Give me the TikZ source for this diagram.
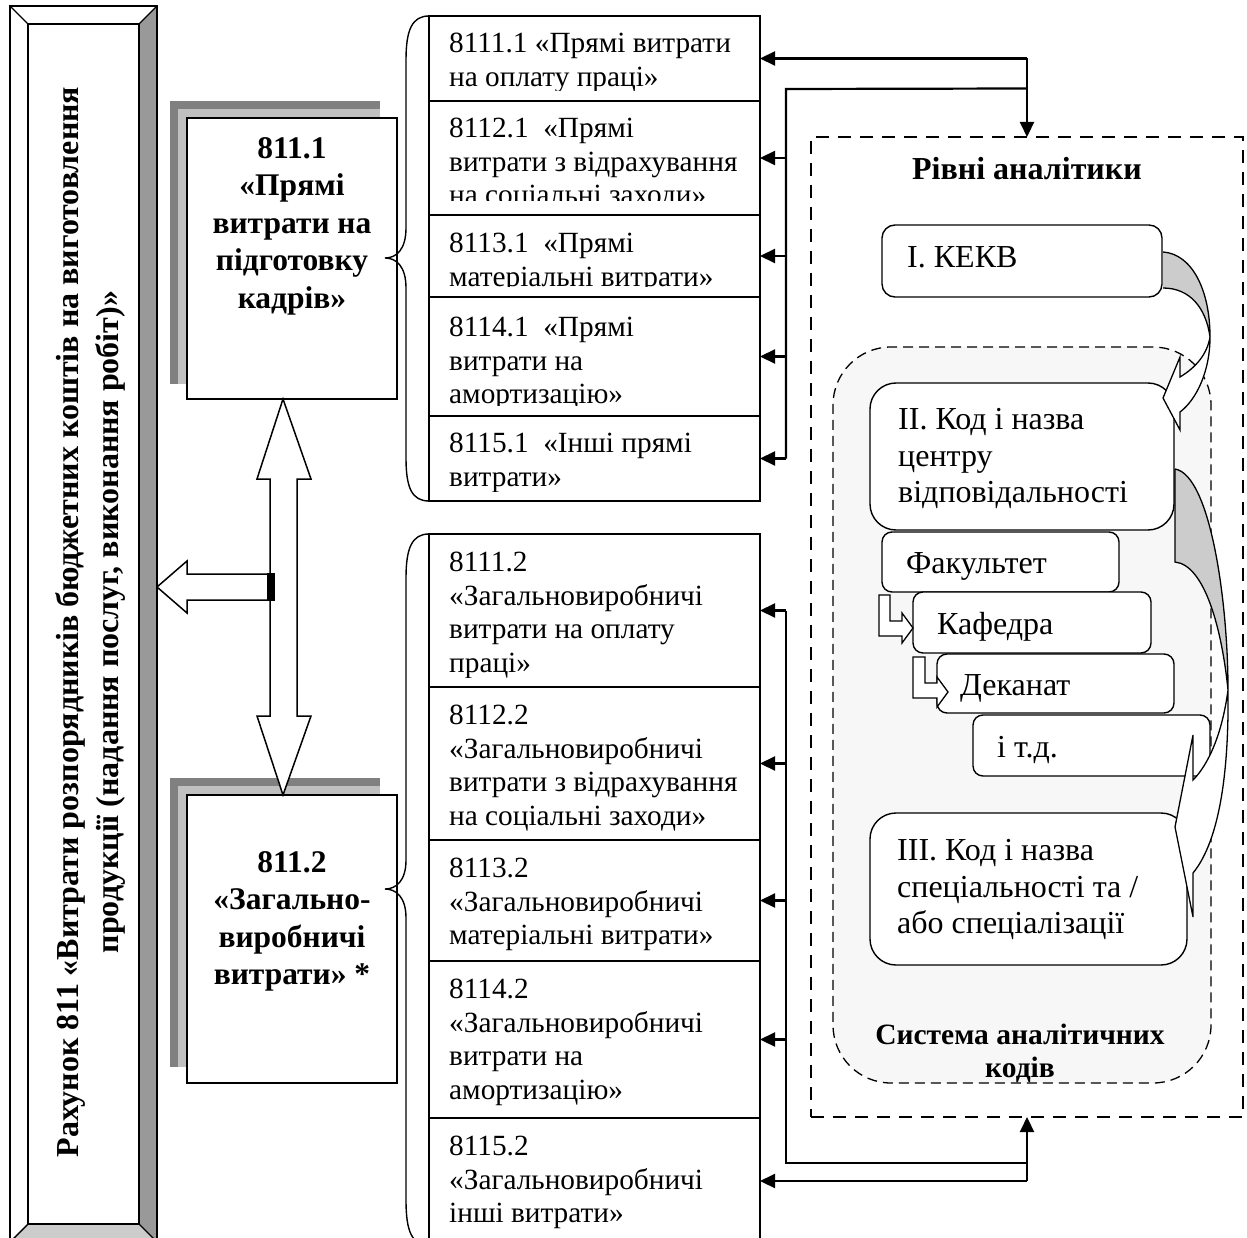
\documentclass[tikz,border=0pt]{standalone}
\usepackage{fontspec}
\setmainfont{Liberation Serif}
\usetikzlibrary{arrows.meta,calc}
\definecolor{dkgray}{HTML}{808080}
\definecolor{ltgray}{HTML}{C0C0C0}
\definecolor{barright}{HTML}{999999}
\definecolor{barbottom}{HTML}{CCCCCC}
\definecolor{agray}{HTML}{CCCCCC}
\definecolor{regfill}{HTML}{F7F7F7}
\begin{document}
\begin{tikzpicture}[x=1pt,y=-1pt,
  rowbox/.style={draw, line width=1.4pt, anchor=north west, minimum width=331pt, inner sep=0pt, outer sep=0pt},
  rowtxt/.style={anchor=north west, inner sep=0pt, align=left, font=\fontsize{29.3}{33.5}\selectfont},
  bigbox/.style={draw, fill=white, line width=1.8pt, anchor=north west, minimum width=210pt, inner sep=0pt, outer sep=0pt},
  bigtxt/.style={anchor=north, inner sep=0pt, align=center, font=\fontsize{31.5}{37.5}\selectfont\bfseries},
  rbox/.style={draw, fill=white, line width=1.4pt, anchor=north west, inner sep=0pt, outer sep=0pt},
  rtxt/.style={anchor=north west, inner sep=0pt, align=left, font=\fontsize{32}{36.5}\selectfont},
  rtxtb/.style={anchor=base west, inner sep=0pt, font=\fontsize{32}{36.5}\selectfont},
  conn/.style={line width=2.2pt},
  arr/.style={line width=2.2pt, -{Triangle[length=15pt,width=14pt]}},
  shp/.style={draw, fill=white, line width=1.5pt, line join=miter}
]
\useasboundingbox (0,0) rectangle (1247,1238);
\clip (0,0) rectangle (1247,1238);
\fill[white] (0,0) rectangle (1247,1238);

% ---------- left bevelled bar ----------
\fill[white] (10,6) rectangle (157,1242);
\fill[barright] (157,6) -- (157,1242) -- (139,1224) -- (139,24) -- cycle;
\fill[barbottom] (10,1242) -- (28,1224) -- (139,1224) -- (157,1242) -- cycle;
\draw[line width=1.4pt] (10,6) rectangle (157,1242);
\draw[line width=1.4pt] (28,24) rectangle (139,1224);
\draw[line width=1.4pt] (10,6) -- (28,24) (157,6) -- (139,24) (10,1242) -- (28,1224) (157,1242) -- (139,1224);
\node[rotate=90, inner sep=0pt, align=center, font=\fontsize{32}{40}\selectfont\bfseries] (bartxt) at (90,622)
  {Рахунок 811 «Витрати розпорядників бюджетних коштів на виготовлення\\продукції (надання послуг, виконання робіт)»};

% ---------- 811.1 / 811.2 boxes with shadows ----------
\fill[dkgray] (170,101) rectangle (380,384);
\fill[ltgray] (178,109) rectangle (380,384);
\node[bigbox, minimum height=281pt] (b1) at (187,118) {};
\node[bigtxt] (b1t) at (292,137.3) {811.1\\«Прямі\\витрати на\\підготовку\\кадрів»};

\fill[dkgray] (170,778) rectangle (380,1067);
\fill[ltgray] (178,786) rectangle (380,1067);
\node[bigbox, minimum height=288pt] (b2) at (187,795) {};
\node[bigtxt] (b2t) at (292,851.3) {811.2\\«Загально-\\виробничі\\витрати» *};

% ---------- block arrows ----------
\draw[shp] (283,399) -- (311,479) -- (297,479) -- (297,716) -- (311,716) -- (283,795)
  -- (257,716) -- (270,716) -- (270,479) -- (257,479) -- cycle;
\draw[shp] (157,587) -- (187,561) -- (187,574) -- (270,574) -- (270,600) -- (187,600) -- (187,613) -- cycle;
\fill[black] (267,573) rectangle (275,601);

% ---------- braces ----------
\draw[line width=1.4pt] (429,16) .. controls (412,16) and (406,30) .. (406,60) -- (406,228)
  .. controls (406,250) and (396,258) .. (385,258) .. controls (396,258) and (406,266) .. (406,288)
  -- (406,458) .. controls (406,488) and (412,501) .. (429,501);
\draw[line width=1.4pt] (429,534) .. controls (412,534) and (406,548) .. (406,578) -- (406,860)
  .. controls (406,881) and (396,889) .. (385,889) .. controls (396,889) and (406,897) .. (406,918)
  -- (406,1200) .. controls (406,1232) and (412,1245) .. (429,1245);

% ---------- upper rows ----------
\node[rowbox, minimum height=85pt]  (r1) at (429,16)  {};
\node[rowbox, minimum height=114pt] (r2) at (429,101) {};
\node[rowbox, minimum height=82pt]  (r3) at (429,215) {};
\node[rowbox, minimum height=119pt] (r4) at (429,297) {};
\node[rowbox, minimum height=85pt]  (r5) at (429,416) {};
\begin{scope}\clip (429,16) rectangle (760,91);
\node[rowtxt] (r1t) at (449,33.2) {8111.1 «Прямі витрати\\на оплату праці»};\end{scope}
\begin{scope}\clip (429,101) rectangle (760,201);
\node[rowtxt] (r2t) at (449,118.2) {8112.1~~«Прямі\\витрати з відрахування\\на соціальні заходи»};\end{scope}
\begin{scope}\clip (429,215) rectangle (760,287);
\node[rowtxt] (r3t) at (449,233.2) {8113.1~~«Прямі\\матеріальні витрати»};\end{scope}
\begin{scope}\clip (429,297) rectangle (760,405);
\node[rowtxt] (r4t) at (449,317.2) {8114.1~~«Прямі\\витрати на\\амортизацію»};\end{scope}
\begin{scope}\clip (429,416) rectangle (760,491);
\node[rowtxt] (r5t) at (449,433.2) {8115.1~~«Інші прямі\\витрати»};\end{scope}

% ---------- lower rows ----------
\node[rowbox, minimum height=153pt] (s1) at (429,534)  {};
\node[rowbox, minimum height=153pt] (s2) at (429,687)  {};
\node[rowbox, minimum height=121pt] (s3) at (429,840)  {};
\node[rowbox, minimum height=157pt] (s4) at (429,961)  {};
\node[rowbox, minimum height=126pt] (s5) at (429,1118) {};
\begin{scope}\clip (429,534) rectangle (760,677);
\node[rowtxt] (s1t) at (449,552.2) {8111.2\\«Загальновиробничі\\витрати на оплату\\праці»};\end{scope}
\begin{scope}\clip (429,687) rectangle (760,830);
\node[rowtxt] (s2t) at (449,705.2) {8112.2\\«Загальновиробничі\\витрати з відрахування\\на соціальні заходи»};\end{scope}
\begin{scope}\clip (429,840) rectangle (760,951);
\node[rowtxt] (s3t) at (449,858.2) {8113.2\\«Загальновиробничі\\матеріальні витрати»};\end{scope}
\begin{scope}\clip (429,961) rectangle (760,1108);
\node[rowtxt] (s4t) at (449,979.2) {8114.2\\«Загальновиробничі\\витрати на\\амортизацію»};\end{scope}
\begin{scope}\clip (429,1118) rectangle (760,1244);
\node[rowtxt] (s5t) at (449,1136.2) {8115.2\\«Загальновиробничі\\інші витрати»};\end{scope}

% ---------- right dashed frame ----------
\node[draw, line width=2.2pt, dash pattern=on 13pt off 9pt, anchor=north west, minimum width=432pt,
  minimum height=980pt, inner sep=0pt, outer sep=0pt] (lev) at (811,137) {};
\node[anchor=base, inner sep=0pt, font=\fontsize{32}{36}\selectfont\bfseries] (levt) at (1027,180) {Рівні аналітики};

\node[draw, fill=regfill, line width=1.3pt, dash pattern=on 10pt off 6pt, rounded corners=58pt,
  anchor=north west, minimum width=378pt, minimum height=736pt, inner sep=0pt, outer sep=0pt] (reg) at (833,347) {};
\node[anchor=north, inner sep=0pt, align=center, font=\fontsize{29.5}{33}\selectfont\bfseries] (regt) at (1020,1024)
  {Система аналітичних\\кодів};

% boxes inside
\node[rbox, rounded corners=13pt, minimum width=280pt, minimum height=72pt] (k1) at (882,225) {};
\node[rtxtb] (k1t) at (907,268) {І. КЕКВ};
\node[rbox, rounded corners=26pt, minimum width=304pt, minimum height=147pt] (k2) at (870,383) {};
\node[rtxt] (k2t) at (898,408.5) {ІІ. Код і назва\\центру\\відповідальності};
\node[rbox, rounded corners=10pt, minimum width=237pt, minimum height=60pt] (f1) at (882,532) {};
\node[rtxtb] (f1t) at (906,573) {Факультет};
\node[rbox, rounded corners=10pt, minimum width=238pt, minimum height=61pt] (f2) at (913,592) {};
\node[rtxtb] (f2t) at (937,634) {Кафедра};
\node[rbox, rounded corners=10pt, minimum width=237pt, minimum height=59pt] (f3) at (937,654) {};
\node[rtxtb] (f3t) at (960,695) {Деканат};
\node[rbox, rounded corners=10pt, minimum width=237pt, minimum height=61pt] (f4) at (973,715) {};
\node[rtxtb] (f4t) at (997,757) {і т.д.};
\node[rbox, rounded corners=26pt, minimum width=317pt, minimum height=152pt] (k3) at (870,813) {};
\node[rtxt] (k3t) at (897,839.5) {ІІІ. Код і назва\\спеціальності та /\\або спеціалізації};

% small bent arrows
\draw[shp, line width=1.3pt] (879,595) -- (890,595) -- (890,621) -- (902,621) -- (902,613) -- (913,628)
  -- (902,643) -- (902,636) -- (879,636) -- cycle;
\draw[shp, line width=1.3pt] (913,657) -- (925,657) -- (925,683) -- (937,683) -- (937,677) -- (948,692)
  -- (937,707) -- (937,698) -- (913,698) -- cycle;

% curved arrow 1 (КЕКВ -> II)
\fill[agray] (1163,252) .. controls (1192,254) and (1210,290) .. (1210,337)
  .. controls (1206,308) and (1190,288) .. (1163,288) -- cycle;
\draw[line width=1.3pt] (1163,252) .. controls (1192,254) and (1210,290) .. (1210,337)
  .. controls (1206,308) and (1190,288) .. (1163,288);
\draw[shp, line width=1.3pt] (1210,337) .. controls (1210,372) and (1196,400) .. (1180,412) -- (1180,430)
  -- (1163,398) -- (1180,357) -- (1180,377) .. controls (1195,368) and (1207,355) .. (1210,337) -- cycle;

% curved arrow 2 (II -> III)
\fill[agray] (1175,469) .. controls (1210,475) and (1228,600) .. (1228,690)
  .. controls (1222,630) and (1205,565) .. (1175,562) -- cycle;
\draw[line width=1.3pt] (1175,469) .. controls (1210,475) and (1228,600) .. (1228,690)
  .. controls (1222,630) and (1205,565) .. (1175,562) -- (1175,469);
\draw[shp, line width=1.3pt] (1228,690) .. controls (1222,735) and (1208,765) .. (1193,780) -- (1193,735)
  -- (1175,827) -- (1193,917) -- (1193,873) .. controls (1220,840) and (1229,770) .. (1228,690) -- cycle;

% ---------- connectors ----------
\coordinate (jt) at (lev.north |- r1.east);
\coordinate (jt2) at ($(jt)+(0,30)$);
\draw[arr] (jt) -- (r1.east);
\draw[arr] (jt) -- (lev.north);
\draw[conn] (jt2) -- (786,89) -- (786,458.5);
\coordinate (vt) at (786,0);
\draw[arr] (vt |- r2.east) -- (r2.east);
\draw[arr] (vt |- r3.east) -- (r3.east);
\draw[arr] (vt |- r4.east) -- (r4.east);
\draw[arr] (vt |- r5.east) -- (r5.east);

\coordinate (jb) at (lev.south |- s5.east);
\draw[arr] (jb) -- (s5.east);
\draw[arr] (jb) -- (lev.south);
\draw[conn] (786,610.5) -- (786,1163) -- (lev.south |- 0,1163);
\draw[arr] (vt |- s1.east) -- (s1.east);
\draw[arr] (vt |- s2.east) -- (s2.east);
\draw[arr] (vt |- s3.east) -- (s3.east);
\draw[arr] (vt |- s4.east) -- (s4.east);
\end{tikzpicture}
\end{document}
